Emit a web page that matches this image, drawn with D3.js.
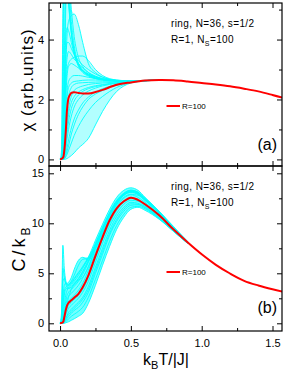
<!DOCTYPE html>
<html>
<head>
<meta charset="utf-8">
<script src="https://cdn.jsdelivr.net/npm/d3@7/dist/d3.min.js"></script>
<style>
  body { margin: 0; background: #fff; }
  text { font-family: "Liberation Sans", Arial, Helvetica, sans-serif; fill: #000; }
  .frame { fill: none; stroke: #000; stroke-width: 1.2; }
  .axis path { display: none; }
  .axis line { stroke: #000; stroke-width: 1; }
  .cyan { fill: none; stroke: #00ffff; stroke-width: 0.9; }
  .band { fill: #00ffff; stroke: none; }
  .red { fill: none; stroke: #ff0000; stroke-width: 2; }
</style>
</head>
<body>
<script>
// susceptibility, R=100 average
var chiRedT = [0, 0.02, 0.03, 0.04, 0.05, 0.06, 0.07, 0.08, 0.1, 0.13, 0.16, 0.2, 0.25, 0.3, 0.4, 0.5, 0.6, 0.7, 0.8, 0.9, 1.0, 1.1, 1.2, 1.3, 1.4, 1.5, 1.6];
var chiRed  = [0, 0.05, 0.3, 0.9, 1.7, 2.05, 2.16, 2.22, 2.24, 2.22, 2.2, 2.2, 2.25, 2.32, 2.49, 2.57, 2.63, 2.65, 2.64, 2.6, 2.55, 2.5, 2.44, 2.36, 2.27, 2.15, 2.02];

// susceptibility, single samples (R=1)
var chiCyanT = [0, 0.01, 0.02, 0.03, 0.04, 0.05, 0.06, 0.08, 0.1, 0.13, 0.16, 0.2, 0.25, 0.3, 0.4, 0.5, 0.6, 0.7];
var chiCyan = [
  [0, 0.1, 3.5, 7, 8, 7, 6, 4.6, 3.8, 3.2, 2.95, 2.8, 2.7, 2.66, 2.62, 2.62, 2.64, 2.65],
  [0, 0, 1.5, 5.5, 7, 6.5, 5.5, 4.3, 3.6, 3.1, 2.9, 2.78, 2.7, 2.66, 2.62, 2.61, 2.63, 2.65],
  [0, 0, 0.3, 1.5, 3, 4.2, 4.6, 4.8, 4.85, 4.5, 3.9, 3.2, 2.9, 2.75, 2.64, 2.62, 2.63, 2.65],
  [0, 0, 0.8, 3.5, 5.5, 5.8, 5.2, 4.2, 3.6, 3.2, 3.0, 2.85, 2.75, 2.68, 2.63, 2.62, 2.63, 2.65],
  [0, 0, 0.2, 1.2, 2.4, 3.0, 3.2, 3.35, 3.4, 3.45, 3.45, 3.3, 3.0, 2.8, 2.65, 2.62, 2.63, 2.65],
  [0, 0, 0.5, 2.5, 4.0, 4.4, 4.3, 3.9, 3.5, 3.15, 2.95, 2.82, 2.72, 2.67, 2.63, 2.62, 2.63, 2.65],
  [0, 0, 0.1, 0.8, 2.0, 2.8, 3.1, 3.2, 3.15, 3.05, 2.95, 2.85, 2.75, 2.68, 2.63, 2.62, 2.63, 2.65],
  [0, 0, 0.1, 0.6, 1.6, 2.3, 2.6, 2.75, 2.8, 2.8, 2.78, 2.74, 2.7, 2.66, 2.62, 2.61, 2.63, 2.65],
  [0, 0, 0.05, 0.3, 1.0, 1.7, 2.1, 2.4, 2.5, 2.55, 2.56, 2.57, 2.58, 2.59, 2.6, 2.61, 2.63, 2.65],
  [0, 0, 0, 0.15, 0.6, 1.1, 1.5, 1.9, 2.1, 2.25, 2.33, 2.4, 2.46, 2.5, 2.56, 2.6, 2.63, 2.65],
  [0, 0, 0, 0.1, 0.35, 0.7, 1.0, 1.45, 1.75, 2.0, 2.15, 2.28, 2.38, 2.45, 2.54, 2.59, 2.63, 2.65],
  [0, 0, 0, 0.05, 0.2, 0.4, 0.65, 1.05, 1.35, 1.65, 1.88, 2.08, 2.25, 2.36, 2.5, 2.58, 2.62, 2.65],
  [0, 0, 0, 0.02, 0.08, 0.18, 0.3, 0.55, 0.8, 1.1, 1.35, 1.62, 1.9, 2.1, 2.4, 2.56, 2.62, 2.65],
  [0, 0, 0, 0, 0.01, 0.03, 0.06, 0.13, 0.22, 0.38, 0.5, 0.7, 1.15, 1.6, 2.27, 2.55, 2.63, 2.65],
  [0, 0.3, 5, 9, 8, 6.5, 5.4, 4.2, 3.6, 3.15, 2.95, 2.82, 2.72, 2.67, 2.63, 2.62, 2.63, 2.65],
  [0, 0, 0.2, 2, 5, 6.5, 6.2, 5, 4.1, 3.4, 3.1, 2.9, 2.76, 2.69, 2.63, 2.62, 2.63, 2.65],
  [0, 0, 0.3, 1.8, 3.5, 3.9, 3.9, 3.7, 3.5, 3.3, 3.15, 3.0, 2.85, 2.74, 2.64, 2.62, 2.63, 2.65],
  [0, 0, 0.1, 1, 2.6, 3.4, 3.6, 3.5, 3.35, 3.2, 3.05, 2.9, 2.78, 2.7, 2.63, 2.62, 2.63, 2.65],
  [0, 0, 0.05, 0.5, 1.5, 2.1, 2.4, 2.55, 2.6, 2.62, 2.64, 2.65, 2.65, 2.64, 2.62, 2.61, 2.63, 2.65],
  [0, 0, 0, 0.2, 0.8, 1.3, 1.7, 2.1, 2.3, 2.4, 2.45, 2.5, 2.53, 2.55, 2.58, 2.6, 2.63, 2.65],
  [0, 0, 0, 0.1, 0.4, 0.9, 1.25, 1.7, 1.95, 2.15, 2.27, 2.36, 2.43, 2.48, 2.55, 2.59, 2.63, 2.65],
  [0, 0, 0, 0.03, 0.12, 0.28, 0.45, 0.85, 1.15, 1.5, 1.75, 2.0, 2.18, 2.3, 2.48, 2.57, 2.62, 2.65]
];

// specific heat, R=100 average
var heatRedT = [0, 0.02, 0.03, 0.04, 0.05, 0.06, 0.08, 0.1, 0.13, 0.16, 0.2, 0.25, 0.3, 0.35, 0.4, 0.45, 0.5, 0.55, 0.6, 0.7, 0.8, 0.9, 1.0, 1.1, 1.2, 1.3, 1.4, 1.5, 1.6];
var heatRed  = [0, 0.1, 0.6, 1.3, 1.8, 2.05, 2.3, 2.55, 2.95, 3.6, 4.8, 6.75, 8.6, 10.3, 11.5, 12.2, 12.56, 12.35, 11.9, 10.8, 9.4, 8.1, 6.9, 5.85, 4.98, 4.25, 3.78, 3.4, 3.07];

// specific heat, single samples (R=1)
var heatCyanT = [0, 0.01, 0.02, 0.03, 0.04, 0.05, 0.06, 0.08, 0.1, 0.13, 0.16, 0.2, 0.25, 0.3, 0.35, 0.4, 0.45, 0.5, 0.55, 0.6, 0.7, 0.8, 0.9];
var heatCyan = [
  [0, 1, 7.8, 5.5, 4.3, 3.9, 3.8, 4.0, 4.4, 5.0, 5.7, 6.6, 8.0, 9.6, 11.0, 12.2, 12.9, 13.2, 13.0, 12.4, 11.1, 9.5, 8.1],
  [0, 0.5, 5.5, 4.6, 4.0, 3.8, 3.9, 4.1, 4.5, 5.1, 5.6, 6.5, 7.8, 9.4, 10.8, 11.9, 12.6, 12.9, 12.8, 12.3, 11.0, 9.5, 8.1],
  [0, 0.2, 2.5, 3.8, 4.0, 4.0, 4.1, 4.6, 5.4, 6.3, 6.6, 6.3, 7.6, 9.3, 10.9, 12.1, 12.9, 13.3, 13.1, 12.5, 11.2, 9.6, 8.15],
  [0, 0.1, 1.8, 3.2, 3.6, 3.7, 3.8, 4.2, 4.8, 5.8, 6.4, 6.5, 7.5, 9.0, 10.6, 11.9, 12.8, 13.2, 13.0, 12.4, 11.1, 9.5, 8.1],
  [0, 0, 0.5, 1.8, 2.8, 3.3, 3.6, 3.9, 4.2, 4.8, 5.5, 6.6, 8.3, 9.9, 11.4, 12.6, 13.3, 13.55, 13.3, 12.6, 11.2, 9.7, 8.2],
  [0, 0, 0.3, 1.2, 2.2, 2.8, 3.1, 3.4, 3.7, 4.2, 4.9, 6.1, 7.8, 9.5, 11.1, 12.3, 13.0, 13.3, 13.1, 12.4, 11.1, 9.6, 8.15],
  [0, 0, 0.2, 0.9, 1.8, 2.4, 2.7, 3.0, 3.3, 3.8, 4.5, 5.7, 7.5, 9.2, 10.8, 12.0, 12.8, 13.1, 12.9, 12.3, 11.0, 9.5, 8.1],
  [0, 0, 0.1, 0.7, 1.4, 1.9, 2.2, 2.5, 2.8, 3.3, 4.0, 5.3, 7.1, 8.9, 10.5, 11.7, 12.5, 12.85, 12.6, 12.1, 10.9, 9.45, 8.1],
  [0, 0, 0.05, 0.4, 1.0, 1.5, 1.8, 2.1, 2.4, 2.8, 3.4, 4.6, 6.5, 8.4, 10.0, 11.3, 12.1, 12.5, 12.3, 11.9, 10.8, 9.4, 8.1],
  [0, 0, 0, 0.3, 0.8, 1.2, 1.5, 1.8, 2.1, 2.5, 3.1, 4.2, 6.1, 8.0, 9.7, 11.0, 11.9, 12.3, 12.2, 11.8, 10.7, 9.35, 8.05],
  [0, 0, 0, 0.2, 0.5, 0.8, 1.1, 1.4, 1.7, 2.1, 2.6, 3.7, 5.6, 7.5, 9.3, 10.7, 11.6, 12.1, 12.0, 11.7, 10.6, 9.3, 8.05],
  [0, 0, 0, 0.1, 0.3, 0.5, 0.7, 1.0, 1.3, 1.6, 2.1, 3.1, 5.0, 6.9, 8.8, 10.2, 11.2, 11.8, 11.85, 11.55, 10.5, 9.25, 8.0],
  [0, 0, 0, 0.05, 0.15, 0.3, 0.45, 0.7, 0.9, 1.2, 1.6, 2.6, 4.4, 6.3, 8.2, 9.8, 10.9, 11.6, 11.7, 11.45, 10.45, 9.2, 8.0],
  [0, 0, 0, 0, 0.05, 0.1, 0.15, 0.3, 0.45, 0.7, 1.0, 2.0, 3.8, 5.8, 7.7, 9.4, 10.6, 11.4, 11.6, 11.3, 10.4, 9.2, 8.0],
  [0, 0.3, 4.2, 4.5, 4.0, 3.6, 3.5, 3.7, 4.0, 4.5, 5.2, 6.3, 7.9, 9.5, 11.0, 12.2, 13.0, 13.3, 13.1, 12.5, 11.15, 9.6, 8.15],
  [0, 0, 1, 2.8, 3.4, 3.5, 3.5, 3.6, 3.9, 4.4, 5.1, 6.2, 7.8, 9.4, 10.9, 12.1, 12.9, 13.2, 13.0, 12.4, 11.1, 9.55, 8.1],
  [0, 0, 0.1, 0.6, 1.3, 2.0, 2.6, 3.4, 3.9, 4.3, 4.6, 5.6, 7.4, 9.2, 10.8, 12.0, 12.8, 13.1, 12.9, 12.3, 11.0, 9.5, 8.1],
  [0, 0, 0, 0.15, 0.4, 0.7, 0.9, 1.2, 1.5, 1.9, 2.4, 3.4, 5.3, 7.2, 9.0, 10.4, 11.4, 11.95, 11.9, 11.6, 10.55, 9.3, 8.05]
];

var xTicks = [0, 0.5, 1.0, 1.5],
    xMinor = [0.25, 0.75, 1.25];
var chiTicks = [0, 2, 4],
    chiMinor = [1, 3, 5];
var heatTicks = [0, 5, 10, 15],
    heatMinor = [2.5, 7.5, 12.5];

var width = 287,
    height = 375,
    left = 49,
    right = 282;

var svg = d3.select("body").append("svg")
    .attr("width", width)
    .attr("height", height);

var xScale = d3.scaleLinear()
    .domain([-0.078, 1.567])
    .range([left, right]);

var panels = [
  { id: "a", top: 3, bottom: 166, domain: [-0.22, 5.22], ticks: chiTicks, minor: chiMinor, bandOpacity: 0.3,
    redT: chiRedT, red: chiRed, cyanT: chiCyanT, cyan: chiCyan, legendY: 106, labelY: 150, xLabels: false },
  { id: "b", top: 166, bottom: 331, domain: [-0.77, 15.73], ticks: heatTicks, minor: heatMinor, bandOpacity: 0.55,
    redT: heatRedT, red: heatRed, cyanT: heatCyanT, cyan: heatCyan, legendY: 272, labelY: 313, xLabels: true }
];

panels.forEach(function(p) {
  var yScale = d3.scaleLinear()
      .domain(p.domain)
      .range([p.bottom, p.top]);

  svg.append("clipPath")
      .attr("id", "clip-" + p.id)
    .append("rect")
      .attr("x", left)
      .attr("y", p.top)
      .attr("width", right - left)
      .attr("height", p.bottom - p.top);

  var g = svg.append("g")
      .attr("clip-path", "url(#clip-" + p.id + ")");

  // spread of the single samples
  var band = d3.area()
      .x(function(d, i) { return xScale(p.cyanT[i]); })
      .y0(function(d, i) { return yScale(d3.min(p.cyan, function(c) { return c[i]; })); })
      .y1(function(d, i) { return yScale(d3.max(p.cyan, function(c) { return c[i]; })); })
      .curve(d3.curveMonotoneX);
  g.append("path")
      .attr("class", "band")
      .attr("fill-opacity", p.bandOpacity)
      .attr("d", band(p.cyanT));

  // single-sample curves
  p.cyan.forEach(function(vals) {
    var line = d3.line()
        .x(function(d, i) { return xScale(p.cyanT[i]); })
        .y(function(d) { return yScale(d); })
        .curve(d3.curveMonotoneX);
    g.append("path")
        .attr("class", "cyan")
        .attr("d", line(vals));
  });

  // averaged curve
  var redLine = d3.line()
      .x(function(d, i) { return xScale(p.redT[i]); })
      .y(function(d) { return yScale(d); })
      .curve(d3.curveCatmullRom.alpha(0.5));
  g.append("path")
      .attr("class", "red")
      .attr("d", redLine(p.red));

  // y axes, ticks inside
  svg.append("g")
      .attr("class", "axis")
      .attr("transform", "translate(" + left + ",0)")
      .call(d3.axisLeft(yScale).tickValues(p.ticks).tickSize(-5).tickPadding(5).tickFormat(d3.format("d")))
      .selectAll("text")
      .attr("font-size", "11px")
      .attr("font-family", "Liberation Sans, Arial, sans-serif");
  svg.append("g")
      .attr("class", "axis")
      .attr("transform", "translate(" + left + ",0)")
      .call(d3.axisLeft(yScale).tickValues(p.minor).tickSize(-3).tickFormat(""));
  svg.append("g")
      .attr("class", "axis")
      .attr("transform", "translate(" + right + ",0)")
      .call(d3.axisRight(yScale).tickValues(p.ticks).tickSize(-5).tickFormat(""));
  svg.append("g")
      .attr("class", "axis")
      .attr("transform", "translate(" + right + ",0)")
      .call(d3.axisRight(yScale).tickValues(p.minor).tickSize(-3).tickFormat(""));

  // x axes top and bottom
  svg.append("g")
      .attr("class", "axis")
      .attr("transform", "translate(0," + p.top + ")")
      .call(d3.axisTop(xScale).tickValues(xTicks).tickSize(-5).tickFormat(""));
  svg.append("g")
      .attr("class", "axis")
      .attr("transform", "translate(0," + p.top + ")")
      .call(d3.axisTop(xScale).tickValues(xMinor).tickSize(-3).tickFormat(""));
  var xb = svg.append("g")
      .attr("class", "axis")
      .attr("transform", "translate(0," + p.bottom + ")")
      .call(d3.axisBottom(xScale).tickValues(xTicks).tickSize(-5).tickPadding(8)
        .tickFormat(p.xLabels ? d3.format(".1f") : ""));
  xb.selectAll("text")
      .attr("font-size", "11px")
      .attr("font-family", "Liberation Sans, Arial, sans-serif");
  svg.append("g")
      .attr("class", "axis")
      .attr("transform", "translate(0," + p.bottom + ")")
      .call(d3.axisBottom(xScale).tickValues(xMinor).tickSize(-3).tickFormat(""));

  svg.append("rect")
      .attr("class", "frame")
      .attr("x", left)
      .attr("y", p.top)
      .attr("width", right - left)
      .attr("height", p.bottom - p.top);

  // annotation
  svg.append("text")
      .attr("x", 171)
      .attr("y", p.top + 24)
      .attr("font-size", "10px")
      .attr("letter-spacing", "0.4px")
      .text("ring, N=36, s=1/2");
  var t2 = svg.append("text")
      .attr("x", 171)
      .attr("y", p.top + 40)
      .attr("font-size", "10px")
      .attr("letter-spacing", "0.4px");
  t2.append("tspan").text("R=1, N");
  t2.append("tspan").attr("font-size", "7px").attr("dy", 3).text("S");
  t2.append("tspan").attr("dy", -3).text("=100");

  // legend
  svg.append("line")
      .attr("x1", 166.5)
      .attr("x2", 180)
      .attr("y1", p.legendY)
      .attr("y2", p.legendY)
      .attr("stroke", "#ff0000")
      .attr("stroke-width", 2);
  svg.append("text")
      .attr("x", 182)
      .attr("y", p.legendY + 3)
      .attr("font-size", "8px")
      .text("R=100");

  svg.append("text")
      .attr("x", 277)
      .attr("y", p.labelY)
      .attr("text-anchor", "end")
      .attr("font-size", "16px")
      .text("(" + p.id + ")");
});

// axis titles
svg.append("text")
    .attr("transform", "translate(33,80) rotate(-90)")
    .attr("text-anchor", "middle")
    .attr("font-size", "17px")
    .attr("letter-spacing", "1px")
    .text("\u03c7 (arb.units)");

var cLabel = svg.append("text")
    .attr("transform", "translate(25,248) rotate(-90)")
    .attr("text-anchor", "middle")
    .attr("font-size", "18px")
    .attr("letter-spacing", "3px");
cLabel.append("tspan").text("C/k");
cLabel.append("tspan").attr("font-size", "12px").attr("dy", 5).text("B");

var xLabel = svg.append("text")
    .attr("x", 166)
    .attr("y", 365)
    .attr("text-anchor", "middle")
    .attr("font-size", "16px");
xLabel.append("tspan").text("k");
xLabel.append("tspan").attr("font-size", "11px").attr("dy", 4).text("B");
xLabel.append("tspan").attr("dy", -4).text("T/|J|");
</script>
</body>
</html>
